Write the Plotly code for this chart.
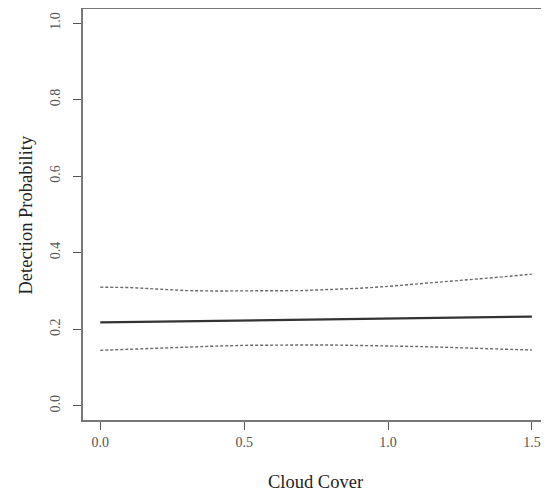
import plotly.graph_objects as go

cloud = [0.0, 0.1, 0.2, 0.3, 0.4, 0.5, 0.6, 0.7, 0.8, 0.9, 1.0, 1.1, 1.2, 1.3, 1.4, 1.5]
mean_p = [0.218, 0.219, 0.220, 0.221, 0.222, 0.222, 0.223, 0.224, 0.225, 0.226, 0.227, 0.228, 0.229, 0.230, 0.231, 0.233]
upper_p = [0.310, 0.309, 0.305, 0.301, 0.300, 0.300, 0.300, 0.301, 0.304, 0.307, 0.312, 0.318, 0.324, 0.330, 0.337, 0.344]
lower_p = [0.145, 0.148, 0.151, 0.154, 0.156, 0.158, 0.159, 0.159, 0.159, 0.158, 0.157, 0.155, 0.153, 0.150, 0.148, 0.146]

x_ticks = [0.0, 0.5, 1.0, 1.5]
y_ticks = [0.0, 0.2, 0.4, 0.6, 0.8, 1.0]

fig = go.Figure()
fig.add_trace(go.Scatter(x=cloud, y=upper_p, mode="lines",
                         line=dict(color="#6a6a6a", width=1.4, dash="3px,2px"), showlegend=False))
fig.add_trace(go.Scatter(x=cloud, y=lower_p, mode="lines",
                         line=dict(color="#6a6a6a", width=1.4, dash="3px,2px"), showlegend=False))
fig.add_trace(go.Scatter(x=cloud, y=mean_p, mode="lines",
                         line=dict(color="#333333", width=2.2), showlegend=False))

font_fam = "Liberation Serif, Times New Roman, serif"
fig.update_layout(
    width=541, height=484,
    margin=dict(l=75, r=1, t=1, b=72),
    paper_bgcolor="white", plot_bgcolor="white",
    font=dict(family=font_fam, color="#555555", size=14),
    annotations=[
        dict(text="Cloud Cover", xref="paper", yref="paper", x=0.5, y=-0.151,
             yanchor="middle", xanchor="center", showarrow=False,
             font=dict(size=18.5, color="#222222", family=font_fam)),
        dict(text="Detection Probability", xref="paper", yref="paper", x=-0.1247, y=0.5,
             yanchor="middle", xanchor="center", showarrow=False, textangle=-90,
             font=dict(size=18.5, color="#222222", family=font_fam)),
    ],
)
fig.update_xaxes(
    range=[-0.06, 1.556], tickvals=x_ticks, ticktext=["0.0", "0.5", "1.0", "1.5"],
    showgrid=False, zeroline=False, showline=True, linecolor="#777777", linewidth=1.5, mirror=True,
    ticks="outside", ticklen=8, tickcolor="#555555", tickwidth=1.2,
    ticklabelstandoff=0, automargin=False,
)
fig.update_yaxes(
    range=[-0.037, 1.0366], tickvals=y_ticks, ticktext=["0.0", "0.2", "0.4", "0.6", "0.8", "1.0"],
    tickangle=-90,
    showgrid=False, zeroline=False, showline=True, linecolor="#777777", linewidth=1.5, mirror=True,
    ticks="outside", ticklen=8, tickcolor="#555555", tickwidth=1.2,
    ticklabelstandoff=8, automargin=False,
)
fig.write_html("out.html")
